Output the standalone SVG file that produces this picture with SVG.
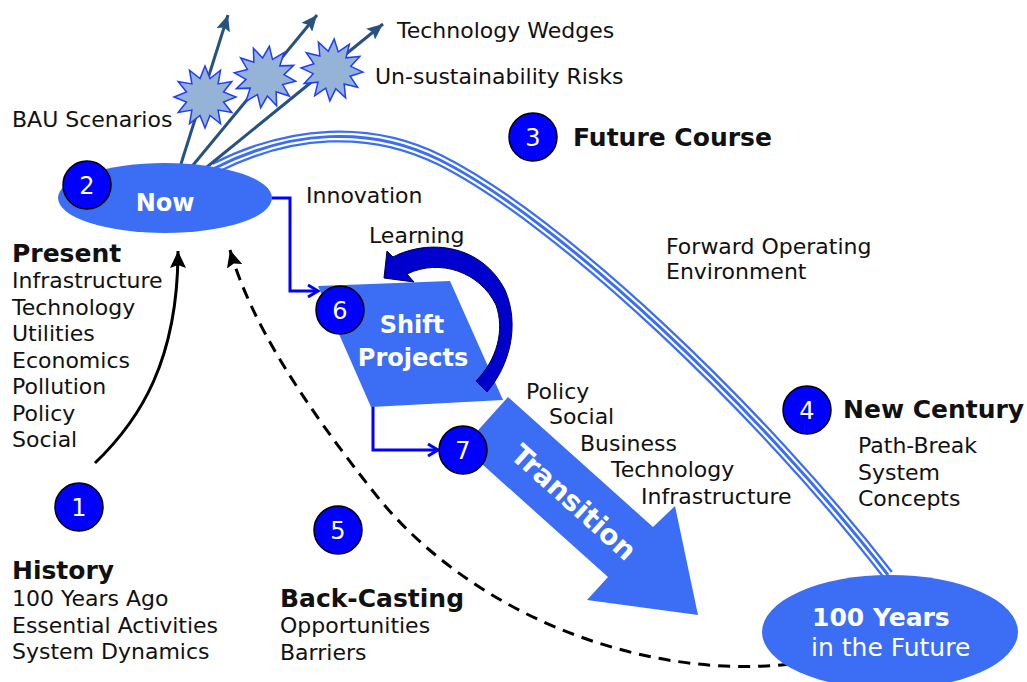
<svg xmlns="http://www.w3.org/2000/svg" width="1027" height="682" viewBox="0 0 1027 682">
<defs>
<style>
.t{font-family:"DejaVu Sans","Liberation Sans",sans-serif;font-size:22px;fill:#111}
.b{font-family:"DejaVu Sans","Liberation Sans",sans-serif;font-size:25px;font-weight:bold;fill:#111}
.w{font-family:"DejaVu Sans","Liberation Sans",sans-serif;fill:#fff}
.num{font-family:"DejaVu Sans","Liberation Sans",sans-serif;font-size:24px;fill:#fff;text-anchor:middle}
.circ{fill:#0000ff;stroke:#000;stroke-width:1.5}
.node{fill:#3b6ef5}
.dark{fill:none;stroke:#27517f;stroke-width:3}
.star{fill:#95b3d7;stroke:#1f3cff;stroke-width:1.5}
</style>
<marker id="mDark" markerUnits="userSpaceOnUse" markerWidth="18" markerHeight="14" refX="16" refY="7" orient="auto">
<path d="M0,0 L16,7 L0,14 L3,7 z" fill="#27517f"/>
</marker>
<marker id="mBlack" markerUnits="userSpaceOnUse" markerWidth="18" markerHeight="16" refX="17" refY="8" orient="auto">
<path d="M0,0 L17,8 L0,16 L3,8 z" fill="#000"/>
</marker>
<marker id="mChev" markerUnits="userSpaceOnUse" markerWidth="16" markerHeight="16" refX="13" refY="8" orient="auto">
<path d="M3,2 L13,8 L3,14" fill="none" stroke="#0000ff" stroke-width="3"/>
</marker>
<polygon id="starShape" points="0,-31 5,-18.5 15.5,-26.8 13.1,-13.1 26.8,-15.5 18.5,-5 31,0 18.5,5 26.8,15.5 13.1,13.1 15.5,26.8 5,18.5 0,31 -5,18.5 -15.5,26.8 -13.1,13.1 -26.8,15.5 -18.5,5 -31,0 -18.5,-5 -26.8,-15.5 -13.1,-13.1 -15.5,-26.8 -5,-18.5"/>
</defs>
<rect width="1027" height="682" fill="#fff"/>

<g id="connectors">
  <g id="forward-course" fill="none">
    <path d="M 215 168 C 290 130, 370 125, 440 160 C 560 220, 760 410, 888 575" stroke="#3b6ef5" stroke-width="12"/>
    <path d="M 215 168 C 290 130, 370 125, 440 160 C 560 220, 760 410, 888 575" stroke="#fff" stroke-width="7.5"/>
    <path d="M 215 168 C 290 130, 370 125, 440 160 C 560 220, 760 410, 888 575" stroke="#3b6ef5" stroke-width="3"/>
  </g>
  <path id="back-casting" d="M 790 664 C 650 680, 480 620, 380 500 C 300 400, 250 320, 230 250" fill="none" stroke="#000" stroke-width="3" stroke-dasharray="12,8" marker-end="url(#mBlack)"/>
  <path id="history-present" d="M 95 463 C 140 420, 178 360, 178 251" fill="none" stroke="#000" stroke-width="3" marker-end="url(#mBlack)"/>
  <line class="dark" x1="180" y1="167" x2="228" y2="15" marker-end="url(#mDark)"/>
  <line class="dark" x1="189" y1="170" x2="317" y2="15" marker-end="url(#mDark)"/>
  <line class="dark" x1="202" y1="171" x2="383" y2="24" marker-end="url(#mDark)"/>
  <path id="innovation" d="M 272 198 L 290 198 L 290 291 L 318 291" fill="none" stroke="#0000ff" stroke-width="3" marker-end="url(#mChev)"/>
  <path id="to-transition" d="M 373 405 L 373 450 L 438 450" fill="none" stroke="#0000ff" stroke-width="3" marker-end="url(#mChev)"/>
</g>

<g id="risks">
  <use href="#starShape" class="star" transform="translate(205,97)"/>
  <use href="#starShape" class="star" transform="translate(265,77) rotate(8)"/>
  <use href="#starShape" class="star" transform="translate(332,70) rotate(4)"/>
</g>

<g id="now">
  <ellipse cx="165" cy="198" rx="107" ry="35" class="node"/>
  <text x="165" y="211" class="w" font-size="24" font-weight="bold" text-anchor="middle">Now</text>
</g>

<g id="future">
  <ellipse cx="890" cy="632" rx="128" ry="57" class="node"/>
  <text x="812" y="626" class="w" font-size="25" font-weight="bold">100 Years</text>
  <text x="811" y="656" class="w" font-size="25">in the Future</text>
</g>

<g id="shift-projects">
  <polygon points="318,286 450,281 503,400 371,407" class="node"/>
  <text x="412" y="333" class="w" font-size="24" font-weight="bold" text-anchor="middle">Shift</text>
  <text x="413" y="366" class="w" font-size="24" font-weight="bold" text-anchor="middle">Projects</text>
</g>

<g id="learning">
  <path d="M 384 278 L 387 251 L 393 257 C 430 238, 482 245, 505 290 C 520 325, 510 365, 487 392 L 476 381 C 497 360, 505 330, 496 305 C 480 272, 440 258, 407 274 L 414 282 Z" fill="#0000cc" stroke="#000044" stroke-width="1"/>
</g>

<g id="transition">
  <polygon points="508,397 653,527 675,506 698,615 587,600 608,577 463,447" class="node"/>
  <text transform="translate(574,502) rotate(42)" x="0" y="10" class="w" font-size="28" font-weight="bold" text-anchor="middle">Transition</text>
</g>

<g id="markers">
  <g id="n1"><circle cx="79" cy="507" r="24" class="circ"/><text x="79" y="516" class="num">1</text></g>
  <g id="n2"><circle cx="87" cy="185" r="24" class="circ"/><text x="87" y="194" class="num">2</text></g>
  <g id="n3"><circle cx="533" cy="137" r="24" class="circ"/><text x="533" y="146" class="num">3</text></g>
  <g id="n4"><circle cx="807" cy="410" r="24" class="circ"/><text x="807" y="419" class="num">4</text></g>
  <g id="n5"><circle cx="338" cy="530" r="24" class="circ"/><text x="338" y="539" class="num">5</text></g>
  <g id="n6"><circle cx="340" cy="310" r="24" class="circ"/><text x="340" y="319" class="num">6</text></g>
  <g id="n7"><circle cx="463" cy="450" r="24" class="circ"/><text x="463" y="459" class="num">7</text></g>
</g>

<g id="labels">
  <text x="397" y="38" class="t">Technology Wedges</text>
  <text x="375" y="84" class="t">Un-sustainability Risks</text>
  <text x="12" y="127" class="t">BAU Scenarios</text>
  <text x="573" y="146" class="b">Future Course</text>
  <text x="306" y="203" class="t">Innovation</text>
  <text x="369" y="243" class="t">Learning</text>
  <text x="666" y="254" class="t">Forward Operating</text>
  <text x="666" y="279" class="t">Environment</text>

  <text x="12" y="262" class="b">Present</text>
  <text x="12" y="288" class="t">Infrastructure</text>
  <text x="12" y="315" class="t">Technology</text>
  <text x="12" y="341" class="t">Utilities</text>
  <text x="12" y="368" class="t">Economics</text>
  <text x="12" y="394" class="t">Pollution</text>
  <text x="12" y="421" class="t">Policy</text>
  <text x="12" y="447" class="t">Social</text>

  <text x="526" y="399" class="t">Policy</text>
  <text x="549" y="424" class="t">Social</text>
  <text x="580" y="451" class="t">Business</text>
  <text x="611" y="477" class="t">Technology</text>
  <text x="641" y="504" class="t">Infrastructure</text>

  <text x="843" y="418" class="b">New Century</text>
  <text x="858" y="453" class="t">Path-Break</text>
  <text x="858" y="480" class="t">System</text>
  <text x="858" y="506" class="t">Concepts</text>

  <text x="12" y="579" class="b">History</text>
  <text x="12" y="606" class="t">100 Years Ago</text>
  <text x="12" y="633" class="t">Essential Activities</text>
  <text x="12" y="659" class="t">System Dynamics</text>

  <text x="280" y="607" class="b">Back-Casting</text>
  <text x="280" y="633" class="t">Opportunities</text>
  <text x="280" y="660" class="t">Barriers</text>
</g>
</svg>
